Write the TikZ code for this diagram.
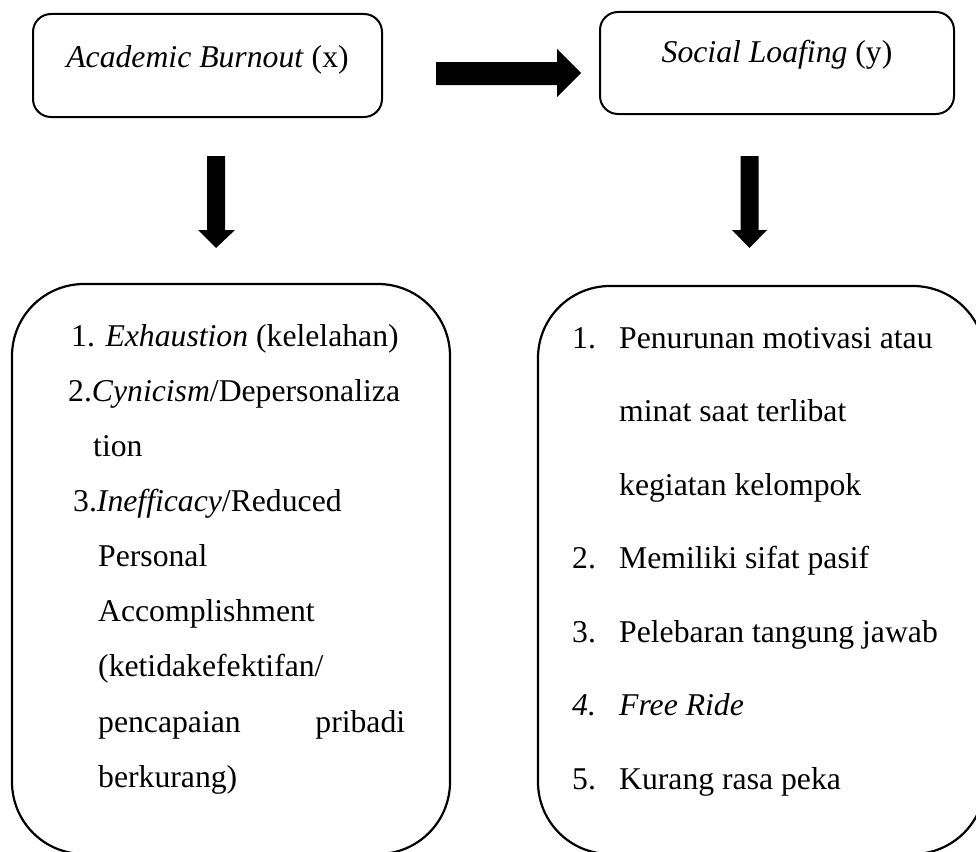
\documentclass[tikz,border=0pt]{standalone}
\usepackage{fontspec}
\setmainfont{Liberation Serif}
\begin{document}
\begin{tikzpicture}[x=1pt,y=-1pt,
  txt/.style={inner sep=0pt, anchor=base west, font=\fontsize{31.7}{38}\selectfont},
  ctxt/.style={inner sep=0pt, anchor=base, font=\fontsize{31.7}{38}\selectfont},
  topbox/.style={draw, line width=2pt, rounded corners=18pt, inner sep=0pt},
  bigbox/.style={draw, line width=2.2pt, rounded corners=72pt, inner sep=0pt},
  blockarrow/.style={fill=black, draw=none}]
\useasboundingbox (0,0) rectangle (976,851);
\clip (0,0) rectangle (976,851);
% top boxes
\node[topbox, minimum width=349pt, minimum height=103pt] (bx) at (207.5,65.5) {};
\node[ctxt] (bxt) at (207.5,67) {\textit{Academic Burnout} (x)};
\node[topbox, minimum width=354pt, minimum height=102pt] (by) at (777,63) {};
\node[ctxt] (byt) at (777,63) {\textit{Social Loafing} (y)};
% block arrows
\draw[blockarrow] (436,62) -- (557,62) -- (557,49) -- (581,73) -- (557,97) -- (557,85) -- (436,85) -- cycle;
\draw[blockarrow] (207,156) -- (225,156) -- (225,230) -- (235,230) -- (216,248) -- (198,230) -- (207,230) -- cycle;
\draw[blockarrow] (740.5,156) -- (758.5,156) -- (758.5,230) -- (767,230) -- (749.5,248) -- (732,230) -- (740.5,230) -- cycle;
% bottom boxes
\node[bigbox, minimum width=438pt, minimum height=570pt] (lx) at (231,569) {};
\node[bigbox, minimum width=447pt, minimum height=568pt] (ly) at (761.5,570) {};
% left text
\node[txt] (l1) at (71,346) {1. \textit{Exhaustion} (kelelahan)};
\node[txt] (l2) at (68,401) {2.\textit{Cynicism}/Depersonaliza};
\node[txt] (l3) at (93,456) {tion};
\node[txt] (l4) at (73,511) {3.\textit{Inefficacy}/Reduced};
\node[txt] (l5) at (98,566) {Personal};
\node[txt] (l6) at (98,621) {Accomplishment};
\node[txt] (l7) at (98,676) {(ketidakefektifan/};
\node[txt] (l8) at (98,732) {\makebox[307pt][s]{pencapaian\hfill pribadi}};
\node[txt] (l9) at (98,787) {berkurang)};
% right text
\node[txt] (r1) at (572,348) {\makebox[47pt][l]{1.}Penurunan motivasi atau};
\node[txt] (r2) at (619,421.5) {minat saat terlibat};
\node[txt] (r3) at (619,495) {kegiatan kelompok};
\node[txt] (r4) at (572,568.5) {\makebox[47pt][l]{2.}Memiliki sifat pasif};
\node[txt] (r5) at (572,642) {\makebox[47pt][l]{3.}Pelebaran tangung jawab};
\node[txt] (r6) at (572,715.5) {\makebox[47pt][l]{\textit{4.}}\textit{Free Ride}};
\node[txt] (r7) at (572,789) {\makebox[47pt][l]{5.}Kurang rasa peka};
\end{tikzpicture}
\end{document}
